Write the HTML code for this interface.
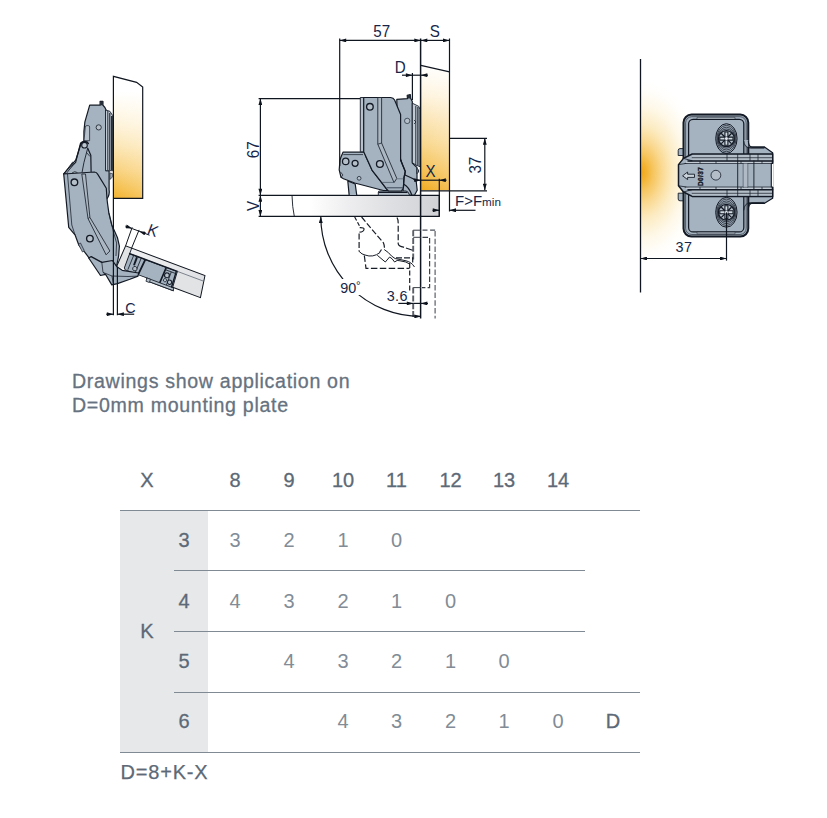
<!DOCTYPE html>
<html><head><meta charset="utf-8"><title>Hinge application</title>
<style>
html,body{margin:0;padding:0;background:#fff;}
body{width:827px;height:818px;position:relative;overflow:hidden;font-family:"Liberation Sans",sans-serif;}
#draw{position:absolute;left:0;top:0;width:827px;height:350px;}
.note{position:absolute;left:72px;top:369px;font-size:19.6px;line-height:24.2px;color:#66727f;letter-spacing:0.68px;-webkit-text-stroke:0.3px #66727f;white-space:nowrap;}
.t{position:absolute;font-size:20px;line-height:20px;width:40px;margin-left:-20px;text-align:center;white-space:nowrap;}
.h{color:#5d6976;-webkit-text-stroke:0.3px #5d6976;}
.d{color:#828c96;}
.ln{position:absolute;height:1px;background:#7f8a94;}
.gray{position:absolute;left:120px;top:511px;width:88px;height:241px;background:#e6e8ea;}
.foot{position:absolute;left:120.5px;top:761px;font-size:20px;line-height:22px;color:#5d6976;letter-spacing:0.8px;-webkit-text-stroke:0.25px #5d6976;}
</style></head><body>
<svg id="draw" width="827" height="350" viewBox="0 0 827 350">
<defs>
<linearGradient id="gPanelL" x1="0" y1="0" x2="0" y2="1">
<stop offset="0" stop-color="#ffffff"/><stop offset="0.13" stop-color="#ffffff"/><stop offset="0.26" stop-color="#fffaee"/><stop offset="0.4" stop-color="#fef3da"/><stop offset="0.565" stop-color="#fce7b7"/><stop offset="0.77" stop-color="#f9d27e"/><stop offset="0.92" stop-color="#f5bf4a"/><stop offset="1" stop-color="#f2b22e"/>
</linearGradient>
<linearGradient id="gPanelM" x1="0" y1="0" x2="0" y2="1">
<stop offset="0" stop-color="#ffffff"/><stop offset="0.12" stop-color="#fffaf0"/><stop offset="0.25" stop-color="#fef3dc"/><stop offset="0.42" stop-color="#fce6b9"/><stop offset="0.62" stop-color="#f9d88f"/><stop offset="0.8" stop-color="#f6c560"/><stop offset="0.92" stop-color="#f3b73c"/><stop offset="1" stop-color="#f0ab1f"/>
</linearGradient>
<linearGradient id="gDoorM" x1="0" y1="0" x2="1" y2="0">
<stop offset="0" stop-color="#ffffff"/><stop offset="0.27" stop-color="#ffffff"/><stop offset="0.5" stop-color="#ededef"/><stop offset="0.75" stop-color="#dddee1"/><stop offset="1" stop-color="#d1d2d6"/>
</linearGradient>
<linearGradient id="gDoorL" x1="0" y1="0" x2="1" y2="0">
<stop offset="0" stop-color="#f1f1f3"/><stop offset="0.5" stop-color="#e9eaec"/><stop offset="1" stop-color="#dfe0e3"/>
</linearGradient>
<radialGradient id="gGlow" cx="0.5" cy="0.5" r="0.5">
<stop offset="0" stop-color="#f0a614"/><stop offset="0.1" stop-color="#f3b434"/><stop offset="0.2" stop-color="#f6c55e"/><stop offset="0.36" stop-color="#fadb96"/><stop offset="0.52" stop-color="#fcecc4"/><stop offset="0.72" stop-color="#fef8e8"/><stop offset="0.9" stop-color="#fffefb"/><stop offset="1" stop-color="#ffffff"/>
</radialGradient>
<linearGradient id="gPanelH" x1="0" y1="0" x2="1" y2="0"><stop offset="0" stop-color="#fff" stop-opacity="0"/><stop offset="1" stop-color="#fff" stop-opacity="0.22"/></linearGradient>
<linearGradient id="gGlowV" x1="0" y1="0" x2="0" y2="1">
<stop offset="0" stop-color="#ffffff"/><stop offset="0.045" stop-color="#fffdf8"/><stop offset="0.135" stop-color="#fdf3d8"/><stop offset="0.225" stop-color="#fbe3a8"/><stop offset="0.317" stop-color="#f8d078"/><stop offset="0.408" stop-color="#f4bb42"/><stop offset="0.5" stop-color="#f0a614"/><stop offset="0.592" stop-color="#f4bb42"/><stop offset="0.683" stop-color="#f8d078"/><stop offset="0.775" stop-color="#fbe3a8"/><stop offset="0.865" stop-color="#fdf3d8"/><stop offset="0.955" stop-color="#fffdf8"/><stop offset="1" stop-color="#ffffff"/>
</linearGradient>
<linearGradient id="gGlowH" x1="0" y1="0" x2="1" y2="0">
<stop offset="0" stop-color="#fff" stop-opacity="0"/><stop offset="0.21" stop-color="#fff" stop-opacity="0.45"/><stop offset="0.48" stop-color="#fff" stop-opacity="0.81"/><stop offset="0.77" stop-color="#fff" stop-opacity="0.97"/><stop offset="1" stop-color="#fff" stop-opacity="1"/>
</linearGradient>
<marker id="ar" viewBox="0 0 10 6" refX="10" refY="3" markerWidth="8.4" markerHeight="3.9" orient="auto-start-reverse" markerUnits="userSpaceOnUse">
<path d="M0,0 L10,3 L0,6 Z" fill="#0e141d"/>
</marker>
</defs>
<style>
.o{stroke:#131a25;stroke-width:1.2;fill:none;stroke-linejoin:round;stroke-linecap:round}
.th{stroke:#151d29;stroke-width:0.75;fill:none;stroke-linejoin:round}
.dim{stroke:#10161f;stroke-width:1.2;fill:none}
.f{fill:#a5b2bf;stroke:#131a25;stroke-width:1.2;stroke-linejoin:round}
.fl{fill:#b6c1cc;stroke:#151d29;stroke-width:0.9;stroke-linejoin:round}
.fd{fill:#98a5b3;stroke:#151d29;stroke-width:0.9;stroke-linejoin:round}
.dash{stroke:#171d27;stroke-width:1.2;fill:none;stroke-dasharray:5 2.6}
.dt{font-family:"Liberation Sans",sans-serif;font-size:16px;fill:#16264a}
.ds{font-family:"Liberation Sans",sans-serif;font-size:14.4px;fill:#16264a}
</style>

<g id="left">
<path d="M113.5,76.3 L136.6,82.3 L142.7,87 L142.6,198.3 L113.5,198.3 Z" fill="url(#gPanelL)"/>
<path d="M113.5,76.3 L136.6,82.3 L142.7,87 L142.6,198.3 L113.5,198.3 Z" fill="url(#gPanelH)"/>
<g id="lefthinge">
<!-- door (tilted) -->
<g transform="translate(125.6,245.9) rotate(20.45)">
<path d="M0,0 H84.7 L88.2,22.3 L-1.2,21.9 Z" fill="url(#gDoorL)"/>
<path d="M57,6 H85.6 L88.2,22.3 H58 Z" fill="#e2e3e5"/>
<path d="M0,0 H6.5 V22 L-1.2,21.9 Z" fill="#e2e3e5"/>

<!-- cup -->
<path class="f" d="M6.5,6 H57.4 L58.6,22.6 L60.4,25.3 H32.8 L31,22.6 H8 L6.5,21 Z" style="stroke-width:0.9"/>
<path class="fl" d="M31,22.6 H59.4 L60.4,25.3 H32.8 Z" style="stroke-width:0.8"/>
<rect x="31.4" y="22.6" width="3.6" height="3.4" class="fl" style="stroke-width:0.7"/>
<path class="o" d="M23.2,6.2 L21.9,21.4" style="stroke-width:1.8"/>
<path class="th" d="M10.9,6.4 L10.4,21.4 M18.9,6.4 L18.4,21.4"/>
<path class="o" d="M14.6,7.4 V14.4" style="stroke-width:2;stroke-dasharray:1.2 0.9"/>
<circle cx="16.6" cy="18.1" r="2.2" class="fl" style="stroke-width:0.8"/>
<path class="o" d="M45.6,6.4 L44.9,21.9" style="stroke-width:1.6"/>
<path class="o" d="M56.4,6.4 L57.4,22.4" style="stroke-width:1.4"/>
<path class="th" d="M45.4,8.4 H56.4 M51.9,8.4 V22.4"/>
<circle cx="49" cy="13.1" r="2.4" class="fl" style="stroke-width:1.1"/>
<circle cx="53.9" cy="18.7" r="2.1" class="fl" style="stroke-width:1"/>
<circle cx="48.9" cy="18.4" r="1.6" class="fl" style="stroke-width:0.8"/>
<!-- door outline -->
<path class="dim" d="M-1.2,21.9 L0,0 H84.7 L88.2,22.3 H58.5" style="stroke-width:1"/>
<path class="th" d="M6.5,0 V6" style="stroke-width:0.9"/>
<path class="o" d="M6.5,5.8 H57.4" style="stroke-width:1.5"/>
<path class="th" d="M57.4,5.8 H85.5" style="stroke:#5d6672;stroke-width:0.7"/>
</g>
<!-- upper arm -->
<path class="f" d="M89.7,105.2 H100.1 V101.3 H102.9 V105.2 L104.9,107.5 L106.1,110 V170.7 H109.1 V189.6 Q110,194.5 106.9,199 L96,175 L64,174 L75.6,162.3 L80.6,143 L83.9,142 V131.2 L84.9,121.8 Z"/>
<rect id="pinL" x="100.2" y="101.3" width="2.9" height="4" fill="#262e3a"/>
<!-- plate -->
<path class="fd" style="fill:#c0cad4" d="M105.5,110 L109.9,111.3 L112.7,115.6 V170.7 H105.5 Z"/>
<path class="th" d="M107.8,111 V170" style="stroke-width:0.9"/><path class="th" d="M109.8,113 V170" style="stroke-width:1.1"/><path class="th" d="M111.7,116 V170" style="stroke-width:1.2"/>
<path class="fl" d="M110,173 L112.3,173.5 L112.3,177 L110,179.5 Z" style="stroke-width:0.7"/>

<!-- slot on arm -->
<path class="fl" d="M85.3,127 Q85.5,125.6 87,125.6 H88.3 Q89.6,125.6 89.6,127 V140.7 H84 Z" style="stroke-width:0.7"/>
<!-- link strip -->
<path class="fl" d="M72.6,162.1 L74.2,163.3 L66.3,173.6 L64,173.6 Z" style="stroke-width:0.8"/>
<path class="o" d="M80.75,144.5 L75.7,160.2 L73.5,162.7 L63.7,173.8"/>
<path class="th" d="M87.7,148.2 L83.9,162.7 L82,172.6" style="stroke-width:0.9"/>
<path class="o" d="M87.7,148.2 L90.8,155.2 L91.1,171.6" style="stroke-width:1.2"/>
<path class="th" d="M86.5,152.5 L90,156.5"/>
<path class="o" d="M80.75,144.8 Q81,141.6 84.5,141.5 Q87.5,141.5 88.3,143.5" style="stroke-width:1.5"/>
<circle cx="84.5" cy="145.2" r="2.8" fill="#bcc6d0" stroke="#131a25" stroke-width="1.1"/>
<circle cx="98.7" cy="127.4" r="2.6" fill="#b4bfc9" stroke="#131a25" stroke-width="0.8"/>
<!-- small arc near lower circle -->
<path class="th" d="M72,173 Q74.5,170.5 77.5,172.6"/>
<!-- lower body -->
<path class="f" d="M63.7,174 L94.4,172 Q96.6,172.2 97.8,174.4 L106.3,188.3 L107,199 L107.6,204 L108.8,212.4 L111.8,225 L117.4,237.5 L119.4,246.2 L118.6,256.2 L116.8,265 L113,268 L101,262 L89.2,258.1 L84.9,252.3 L78.7,244.8 L75,234.8 L68.7,227.3 Z"/>
<path class="th" d="M67.5,174 L71.8,225 L75,234.8"/>
<path class="f" style="fill:#abb7c3;stroke-width:0.8" d="M81.8,174 L88,218.6 L106.1,254.8 L109.9,251 L89.9,217.4 L85.5,174 Z"/>
<path class="th" d="M88,218.6 L89.9,217.4"/>
<path class="th" d="M108.6,212.4 L113.6,232.5 L116.6,243 L116,256"/>
<circle cx="74.4" cy="182.3" r="3.3" fill="#b4bfc9" stroke="#131a25" stroke-width="1.35"/>
<circle cx="89.9" cy="238.6" r="3.3" fill="#b4bfc9" stroke="#131a25" stroke-width="1.35"/>
<!-- knurl -->
<path class="fd" d="M78.5,244.5 L80.5,243 L84.2,250.5 L82.5,252 Z" style="stroke-width:0.7"/>
<!-- bottom cup / link -->
<path class="f" d="M88.7,258 L91.2,256.6 L101.8,262.4 L112.4,260.5 L117,266.8 L122.2,270.3 L138.6,273 L138,276.1 L129.9,279.2 L117.4,283.6 L111.8,284.9 L105.5,274.3 L100.5,275.5 Z"/>
<path class="th" d="M101.8,262.4 L103,272.4 L105.5,274.3 M103,272.4 L112,276 L128,276.5 L138,276.1 M112,276 L113.3,284"/>
</g>

<path class="dim" d="M113.4,315.3 V76.3 L136.6,82.3 L142.7,87 V198.3 H113.4"/>
<path class="dim" d="M117.4,266.8 V315.3"/>
<!-- C dim -->
<path class="dim" d="M106.2,314.2 H113.4" marker-end="url(#ar)"/>
<path class="dim" d="M134.2,314.2 H117.4" marker-end="url(#ar)"/>
<text class="dt" transform="translate(125.2,312.5) scale(0.95,1)" style="font-size:15.1px">C</text>
<!-- K dim -->
<path class="dim" d="M125.6,245.9 L132.2,227.3 M131.4,248.6 L139.1,229.9" style="stroke-width:1"/>
<path class="dim" d="M125.3,226.1 L132.2,228.6" marker-end="url(#ar)" style="stroke-width:1"/>
<path class="dim" d="M149.5,235.2 L139.1,231.2" marker-end="url(#ar)" style="stroke-width:1"/>
<path class="dim" d="M132.2,228.6 L139.1,231.2" style="stroke-width:1"/>
<text class="dt" transform="translate(146.2,233.8) rotate(20.5) scale(0.95,1)">K</text>
</g>

<g id="mid">
<!-- side panel -->
<path d="M420.8,65.3 L449.5,71.9 L449.5,190.3 L420.8,190.3 Z" fill="url(#gPanelM)"/>
<path d="M420.8,65.3 L449.5,71.9 L449.5,190.3 L420.8,190.3 Z" fill="url(#gPanelH)"/>
<path class="dim" d="M420.8,65.3 L449.5,71.9"/>
<!-- door horizontal -->
<rect x="260.4" y="195.3" width="178.9" height="20.9" fill="url(#gDoorM)"/>
<path class="dim" d="M258.6,195.3 H439.3 V216.4 H258.6"/>
<g id="midhinge">
<!-- leg -->
<path class="f" d="M347.8,181 L349.2,195.5 L356.8,195.5 L355.2,184 Z"/>
<!-- right lower piece -->
<path class="f" d="M405,171 L416.2,181.2 L417.2,190.3 L414.6,195 L403,195 L403.4,178 Z"/>
<path class="o" d="M403.4,184 Q409,187 411.6,194.5"/>
<!-- cup base -->
<path class="fl" d="M378.3,195.3 V192 Q378.3,191 379.5,191 H406 Q408.5,191.2 409.6,195.3 Z"/>
<path class="o" d="M379,192.3 H407" style="stroke-width:1.3"/>
<!-- right arm piece behind -->
<path class="f" d="M396.8,99.4 L407.5,98.6 L407.2,95.4 L410.3,94.6 L410.6,98.2 L412.3,101.6 L412.3,163 L417,167.6 L417,180.5 L405,175 L398,150 Z"/>
<path class="fl" d="M417,168.4 Q420.3,171 417,173.6 Z"/>
<path id="pinM" d="M407.2,95.4 L410.3,94.6 L410.6,98.4 L407.5,98.6 Z" fill="#262e3a"/>
<!-- mounting plate -->
<path class="fd" style="fill:#c0cad4" d="M412.3,103.2 L418.8,106.4 L420,109.5 L420,166.6 L416,165.2 L412.3,162.6 Z"/>
<path class="th" d="M415.8,106 V165" style="stroke-width:0.9"/><path class="th" d="M417.9,107 V165.5" style="stroke-width:1.1"/>
<path class="th" d="M414,120 L416,122 L414,124" />

<!-- lower-left piece -->
<path class="f" d="M343,152.2 L364.5,152.2 L366.2,157.3 L372,170.1 L387.7,190.3 L383.4,190.5 L354.7,183 L343.5,178.8 L341,177.3 L339.2,169.8 L340,160 L341,157 Z"/>
<path class="th" d="M343.3,154.6 H363"/>
<path class="th" d="M341,177.3 L343,175 L340.5,172"/>
<!-- main arm -->
<path class="fl" d="M360.3,97.5 H364 V151.8 H360.3 Z"/>
<path class="f" d="M363.7,97.5 H390.6 Q393.4,97.8 394.6,100 L400.6,114.5 V160 L405.3,171.4 L404,177.7 L403.4,187.7 L401.5,191 H388.5 L387.7,190.3 L372,170.1 L366.2,157.3 L363.7,151.7 Z"/>
<!-- ridge on arm -->
<path class="f" style="fill:#abb7c3;stroke-width:0.8" d="M377.8,97.5 H381.6 V143 L396.8,178.4 L394,182.6 L377.8,144.2 Z"/>
<path class="th" d="M377.8,144.2 L381.6,143"/>
<path class="th" d="M382,182.4 H394" style="stroke:#4a5766"/>
<path class="th" d="M397.2,178.8 H403.8" style="stroke:#6b7887;stroke-width:1"/>
<path class="th" d="M386.5,187.7 H403.4" style="stroke:#5a6776;stroke-width:1.4"/>
<path class="o" d="M400.6,160 L405.3,171.4 L404,177.7 L403.4,187.7"/>
<!-- circles -->
<circle cx="369.9" cy="106.8" r="3.3" fill="#b4bfc9" stroke="#131a25" stroke-width="1.35"/>
<circle cx="345.7" cy="161.4" r="3.2" fill="#b4bfc9" stroke="#131a25" stroke-width="1.25"/>
<circle cx="355.1" cy="163.3" r="3" fill="#b4bfc9" stroke="#131a25" stroke-width="1.25"/>
<circle cx="379.9" cy="164" r="3.4" fill="#b4bfc9" stroke="#131a25" stroke-width="1.35"/>
<circle cx="359.1" cy="178.3" r="1.9" fill="#b4bfc9" stroke="#1e2938" stroke-width="0.8"/>
<circle cx="407.2" cy="120.9" r="2.7" fill="#b4bfc9" stroke="#1e2938" stroke-width="0.7"/>
</g>

<!-- center line -->
<path class="dim" d="M420.6,38.5 V318.5" style="stroke-width:1.5"/>
<!-- 57 / S dims -->
<path class="dim" d="M339.7,38.5 V166"/>
<path class="dim" d="M449.5,38.5 V190.3"/>
<path class="dim" d="M339.7,40.4 H420.8" marker-start="url(#ar)" marker-end="url(#ar)"/>
<path class="dim" d="M420.8,40.4 H449.5" marker-start="url(#ar)" marker-end="url(#ar)"/>
<text class="dt" transform="translate(373.2,36.8) scale(0.95,1)">57</text>
<text class="dt" transform="translate(429.8,36.8) scale(0.95,1)">S</text>
<!-- D dim -->
<path class="dim" d="M412.4,73 V100"/>
<path class="dim" d="M402,75.2 H412.4" marker-end="url(#ar)"/>
<path class="dim" d="M428,75.2 H420.8" marker-end="url(#ar)"/>
<path class="dim" d="M412.4,75.2 H420.8"/>
<text class="dt" transform="translate(394.8,72.7) scale(0.95,1)">D</text>
<!-- 67 / V dims -->
<path class="dim" d="M258.6,98.6 H360.3"/>
<path class="dim" d="M292,195.3 Q292.3,207 294.3,216.4" style="stroke-width:0.9"/>
<path class="dim" d="M260.4,98.6 V195.3" marker-start="url(#ar)" marker-end="url(#ar)"/>
<path class="dim" d="M260.4,195.3 V216.4" marker-start="url(#ar)" marker-end="url(#ar)"/>
<text class="dt" transform="translate(258.6,158.2) rotate(-90) scale(0.95,1)">67</text>
<text class="dt" transform="translate(258.6,211) rotate(-90) scale(0.95,1)">V</text>
<!-- 37 dim -->
<path class="dim" d="M449.5,138.3 H487 M420.6,190.8 H487"/>
<path class="dim" d="M484.8,138.3 V190.3" marker-start="url(#ar)" marker-end="url(#ar)"/>
<text class="dt" transform="translate(481.4,173.6) rotate(-90) scale(0.95,1)">37</text>
<!-- X dim -->
<path class="dim" d="M439.3,178.8 V216.2"/>
<path class="dim" d="M414.5,180.2 H420.8" marker-end="url(#ar)"/><path class="dim" d="M446.5,180.2 H439.3" marker-end="url(#ar)"/><path class="dim" d="M420.8,180.2 H439.3"/>
<text class="dt" transform="translate(425.4,177) scale(0.95,1)">X</text>
<!-- F>Fmin -->
<path class="dim" d="M449.5,190.3 V211.5"/>
<path class="dim" d="M432.5,210.3 H439.3" marker-end="url(#ar)"/>
<path class="dim" d="M475.5,210.3 H449.5" marker-end="url(#ar)"/>
<text class="ds" x="455" y="206.3" style="font-size:15px">F&gt;F<tspan font-size="11.7px">min</tspan></text>
<g id="middash">
<!-- open door dashed -->
<path d="M413.2,230.2 V261 M413.2,287.6 V318.5" stroke="#5b6068" stroke-width="1.9" stroke-dasharray="6 1.8" fill="none"/>
<path d="M413.2,230.2 H420.8 M413.2,237.3 H420.8 M413.2,287.6 H420.8" stroke="#3a3f47" stroke-width="1" fill="none"/>
<path class="dash" d="M422.5,230.2 H435.1" style="stroke:#4b5058"/>
<path class="dash" d="M435.1,231 V318.5" style="stroke:#5a5f67;stroke-dasharray:5.5 2.2"/>
<path class="dash" d="M422.5,237.3 H429.6 V287.6 H422" style="stroke:#3a3f47;stroke-dasharray:5.5 2.2"/>
<path class="dash" d="M409.7,263 V290.5" style="stroke-dasharray:5 2.5"/>
<!-- hinge dashed -->
<path class="dash" d="M354.7,217 L359.5,226" style="stroke-dasharray:4 2"/>
<path class="dash" d="M359.7,227.7 Q364.5,227.5 364,229.5 Q363.5,232 359.5,232.2" style="stroke-dasharray:20 0"/>
<path class="dash" d="M361.6,217 L372,229.5 L383.4,242.7 Q385,246.5 384.2,249.5" style="stroke-dasharray:6 2.2"/>
<path class="dash" d="M384.2,249.5 Q389,252.5 391.5,256 Q395,259.5 399,259.3 L406,260.8 Q411.5,262 414.5,267" style="stroke-dasharray:30 0;stroke-width:1"/>
<path class="dash" d="M359.1,233.5 V251.4" style="stroke-dasharray:6 2.4"/>
<path class="dash" d="M359.1,251.4 Q362,254.5 365,255 Q373,258 380,252.5" style="stroke-dasharray:30 0;stroke-width:1"/>
<path class="dash" d="M364.3,255.5 L366,268.3 H409.6" style="stroke-dasharray:6.5 2.4"/>
<path class="dash" d="M377.3,255.3 L385.3,262 L389.6,257 Q392,258 394.6,262 Q397,259.5 400,260.8 L405.8,262 L409.6,264" style="stroke-dasharray:30 0;stroke-width:1"/>
<path class="dash" d="M379.5,252.5 L381.5,249.5" style="stroke-dasharray:4 0"/>
<path class="dash" d="M397,217.5 Q398.5,220 398.2,223.5 V244" style="stroke-dasharray:6 2.4"/>
<path class="dash" d="M398.2,244 Q399,246.5 403.5,247.2 L412.7,250.3" style="stroke-dasharray:7 2"/>
<path class="dash" d="M396,257.9 H412.7 V262.6" style="stroke-dasharray:6 2"/>
</g>

<!-- arc 90 -->
<path class="dim" d="M320.8,216.4 A100,100 0 0 0 420.8,316.4" marker-start="url(#ar)" marker-end="url(#ar)"/>
<rect x="338" y="279" width="27" height="16" fill="#fff"/>
<text class="ds" x="340.3" y="292.7">90<tspan font-size="11.5px" dy="-3.4" dx="-0.3">°</tspan></text>
<!-- 3.6 -->
<path class="dim" d="M398.3,303.4 H413.3" marker-end="url(#ar)"/>
<path class="dim" d="M428,303.4 H420.8" marker-end="url(#ar)"/>
<path class="dim" d="M413.3,303.4 H420.8"/>
<text class="ds" x="386.8" y="300.6" letter-spacing="0.3">3.6</text>
</g>

<g id="right">
<ellipse cx="640.5" cy="172" rx="62" ry="92" fill="url(#gGlow)" clip-path="inset(0 0 0 50%)"/>
<g id="plate">
<!-- left tabs -->
<path class="f" d="M684,148.6 H680 Q678.2,148.6 678.2,150.4 V155.5 H684 Z M684,193.2 H678.2 V199 Q678.2,200.8 680,200.8 H684 Z" style="stroke-width:0.9"/>
<!-- right wing -->
<path class="f" d="M746,147.1 H764.5 L772.6,152.8 V198.3 L764.5,203.3 H746 Z"/>
<!-- outer body -->
<rect x="683.5" y="114.6" width="64.8" height="122" rx="8" ry="8" class="f" style="stroke-width:2"/>
<rect x="685.6" y="116.7" width="60.6" height="117.8" rx="6.2" ry="6.2" fill="none" stroke="#151d29" stroke-width="0.6"/>
<rect x="688.6" y="119.3" width="55.2" height="112.6" rx="4.5" ry="4.5" fill="none" stroke="#131a25" stroke-width="1.25"/>
<path d="M697,117.4 H735 V119 H697 Z M697,232.2 H735 V233.8 H697 Z" fill="#c9d2da" stroke="#151d29" stroke-width="0.5"/>
<!-- fillets to wing -->
<path class="f" d="M744,140 Q744.4,147.1 750,147.1 H748.3 V140 Z" style="stroke:none"/>
<path class="o" d="M743.8,141 Q744.2,148 750.5,148.2 L764,148.2" style="stroke-width:0.8"/>
<path class="o" d="M748.3,141 Q748.5,147.1 752.5,147.1 H764.5" style="stroke-width:1.1"/>
<path class="o" d="M743.8,210 Q744.2,203 750.5,202.6 L764,202.4" style="stroke-width:0.8"/>
<path class="o" d="M748.3,210 Q748.5,203.3 752.5,203.3 H764.5" style="stroke-width:1.1"/>
<!-- screws -->
<g>
<ellipse cx="726.4" cy="138.6" rx="10.7" ry="14.9" fill="#9aa7b5" stroke="#131a25" stroke-width="1"/>
<ellipse cx="726.4" cy="138.6" rx="9.6" ry="13.2" fill="#a3b0bd" stroke="#131a25" stroke-width="0.7"/>
<ellipse cx="726.4" cy="138.6" rx="8.8" ry="11.4" fill="#9aa7b5" stroke="#131a25" stroke-width="0.7"/>
<ellipse cx="726.4" cy="138.6" rx="8.4" ry="9.6" fill="none" stroke="#131a25" stroke-width="0.7"/>
<circle cx="726.4" cy="138.6" r="7.9" fill="#b4c0cb" stroke="#131a25" stroke-width="1.3"/>
<path d="M724.9,132 H727.9 V137.1 H733 V140.1 H727.9 V145.2 H724.9 V140.1 H719.8 V137.1 H724.9 Z" fill="#d3dbe2" stroke="#131a25" stroke-width="1.1"/>
<path class="o" d="M721.6,133.8 L724.6,136.8 M731.2,133.8 L728.2,136.8 M721.6,143.4 L724.6,140.4 M731.2,143.4 L728.2,140.4" style="stroke-width:1.3"/>
<circle cx="726.4" cy="138.6" r="1.9" fill="#dfe6ec" stroke="#131a25" stroke-width="0.6"/>
</g>
<g transform="translate(0,73.7)">
<ellipse cx="726.4" cy="138.6" rx="10.7" ry="14.9" fill="#9aa7b5" stroke="#131a25" stroke-width="1"/>
<ellipse cx="726.4" cy="138.6" rx="9.6" ry="13.2" fill="#a3b0bd" stroke="#131a25" stroke-width="0.7"/>
<ellipse cx="726.4" cy="138.6" rx="8.8" ry="11.4" fill="#9aa7b5" stroke="#131a25" stroke-width="0.7"/>
<ellipse cx="726.4" cy="138.6" rx="8.4" ry="9.6" fill="none" stroke="#131a25" stroke-width="0.7"/>
<circle cx="726.4" cy="138.6" r="7.9" fill="#b4c0cb" stroke="#131a25" stroke-width="1.3"/>
<path d="M724.9,132 H727.9 V137.1 H733 V140.1 H727.9 V145.2 H724.9 V140.1 H719.8 V137.1 H724.9 Z" fill="#d3dbe2" stroke="#131a25" stroke-width="1.1"/>
<path class="o" d="M721.6,133.8 L724.6,136.8 M731.2,133.8 L728.2,136.8 M721.6,143.4 L724.6,140.4 M731.2,143.4 L728.2,140.4" style="stroke-width:1.3"/>
<circle cx="726.4" cy="138.6" r="1.9" fill="#dfe6ec" stroke="#131a25" stroke-width="0.6"/>
</g>
<!-- center channel body -->
<path class="f" d="M692.2,154 H772.6 V196.4 H692.2 L683.5,192 L678.5,185.8 V164.6 L683.5,158.4 Z" style="stroke-width:1.5"/>
<path class="th" d="M683.5,158.4 L692.5,160.9 M683.5,192 L692.5,189.5 M678.5,164.6 L685,163.6 L692.5,160.9 M678.5,185.8 L685,186.8 L692.5,189.5" style="stroke-width:0.8"/>
<!-- strips -->
<path d="M692.2,155 H772 V160.4 H692.2 Z M692.2,190 H772 V195.4 H692.2 Z" fill="#b3bec9"/>
<path d="M686,161.4 H771 V163.2 H686 Z M686,187.2 H771 V189 H686 Z" fill="#c3ccd5"/>
<path class="o" d="M692.2,157.7 H772.6 M692.2,193.3 H772.6" style="stroke-width:0.7"/>
<path class="o" d="M688,160.9 H772.6 M688,189.7 H772.6" style="stroke-width:1.5"/>
<path class="o" d="M685,163.5 H771 M685,187 H771" style="stroke-width:0.7"/>
<path class="th" d="M727,154 V160.9 M737.7,154 V160.9 M750,154 V160.9 M758,154 V160.9 M727,189.7 V196.4 M737.7,189.7 V196.4 M750,189.7 V196.4 M758,189.7 V196.4 M700,161 V163.5 M716,161 V163.5 M741,161 V163.5 M762,161 V163.5 M700,187 V189.7 M716,187 V189.7 M741,187 V189.7 M762,187 V189.7"/>
<!-- vertical lines in channel -->
<path class="o" d="M737.7,160.9 V189.7 M753.9,160.9 V189.7" style="stroke-width:0.9"/>
<path class="o" d="M743.3,163.5 V187 M747.7,163.5 V187" style="stroke-width:0.7"/>
<path d="M743.3,163.5 H747.7 V187 H743.3 Z" fill="#b3bec9" opacity="0.7"/>
<!-- right end notch -->
<path d="M771.3,163.5 H773.6 V187 H771.3 Z" fill="#fff"/>
<path class="o" d="M772.6,152.8 V163.5 H771.3 V187 H772.6 V198.3" style="stroke-width:1.1"/>
<!-- arrow -->
<path d="M682.6,175.8 L687.6,172 V174.2 H694.5 V177.4 H687.6 V179.6 Z" fill="#c9d2da" stroke="#151d29" stroke-width="0.9" stroke-linejoin="miter"/>
<!-- D0/37 -->
<text transform="translate(702.8,186) rotate(-90)" font-family="'Liberation Sans',sans-serif" font-weight="bold" font-size="6.5px" fill="#10161f" stroke="#10161f" stroke-width="0.35" letter-spacing="0.35">D0/37</text>
<circle cx="715.9" cy="175.2" r="4.9" fill="#b3bec9" stroke="#151d29" stroke-width="0.8"/>
</g>

<path class="dim" d="M640.5,59 V292.5" style="stroke-width:1.3"/>
<path class="dim" d="M726.5,212.4 V260.6"/>
<path class="dim" d="M640.5,258.5 H726.5" marker-start="url(#ar)" marker-end="url(#ar)"/>
<text class="ds" x="675.6" y="252.4" letter-spacing="0.3">37</text>
</g>

</svg>
<div class="note">Drawings show application on<br>D=0mm mounting plate</div>
<div class="gray"></div>
<div class="ln" style="left:120px;top:510px;width:520px"></div>
<div class="ln" style="left:174px;top:570px;width:411px"></div>
<div class="ln" style="left:174px;top:631px;width:411px"></div>
<div class="ln" style="left:174px;top:692px;width:466px"></div>
<div class="ln" style="left:120px;top:752px;width:520px"></div>
<div class="t h" style="left:147px;top:470.4px">X</div>
<div class="t h" style="left:235px;top:470.4px">8</div>
<div class="t h" style="left:289px;top:470.4px">9</div>
<div class="t h" style="left:343px;top:470.4px">10</div>
<div class="t h" style="left:396.5px;top:470.4px">11</div>
<div class="t h" style="left:450.5px;top:470.4px">12</div>
<div class="t h" style="left:504px;top:470.4px">13</div>
<div class="t h" style="left:558px;top:470.4px">14</div>
<div class="t h" style="left:184px;top:529.6px">3</div>
<div class="t d" style="left:235px;top:529.6px">3</div>
<div class="t d" style="left:289px;top:529.6px">2</div>
<div class="t d" style="left:343px;top:529.6px">1</div>
<div class="t d" style="left:396.5px;top:529.6px">0</div>
<div class="t h" style="left:184px;top:590.8px">4</div>
<div class="t d" style="left:235px;top:590.8px">4</div>
<div class="t d" style="left:289px;top:590.8px">3</div>
<div class="t d" style="left:343px;top:590.8px">2</div>
<div class="t d" style="left:396.5px;top:590.8px">1</div>
<div class="t d" style="left:450.5px;top:590.8px">0</div>
<div class="t h" style="left:184px;top:651.3px">5</div>
<div class="t d" style="left:289px;top:651.3px">4</div>
<div class="t d" style="left:343px;top:651.3px">3</div>
<div class="t d" style="left:396.5px;top:651.3px">2</div>
<div class="t d" style="left:450.5px;top:651.3px">1</div>
<div class="t d" style="left:504px;top:651.3px">0</div>
<div class="t h" style="left:184px;top:711.4px">6</div>
<div class="t d" style="left:343px;top:711.4px">4</div>
<div class="t d" style="left:396.5px;top:711.4px">3</div>
<div class="t d" style="left:450.5px;top:711.4px">2</div>
<div class="t d" style="left:504px;top:711.4px">1</div>
<div class="t d" style="left:558px;top:711.4px">0</div>
<div class="t h" style="left:147px;top:621.3px">K</div>
<div class="t h" style="left:613px;top:711.4px">D</div>
<div class="foot">D=8+K-X</div>
</body></html>
